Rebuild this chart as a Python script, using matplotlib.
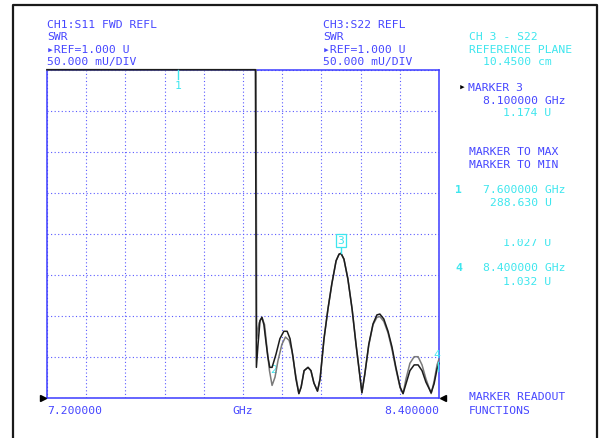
import matplotlib
matplotlib.use('Agg')
import matplotlib.pyplot as plt
from matplotlib.lines import Line2D
from matplotlib.patches import Rectangle

# trace values (GHz, SWR units)
freq_ch1 = [7.200, 7.838, 7.841, 7.846, 7.852, 7.858, 7.864, 7.870, 7.876, 7.882,
            7.889, 7.901, 7.913, 7.925, 7.935, 7.944, 7.953, 7.962, 7.971, 7.978,
            7.987, 7.999, 8.008, 8.017, 8.028, 8.036, 8.048, 8.060, 8.072, 8.085,
            8.094, 8.100, 8.109, 8.121, 8.134, 8.146, 8.157, 8.164, 8.173, 8.185,
            8.198, 8.210, 8.219, 8.231, 8.244, 8.256, 8.268, 8.281, 8.290, 8.299,
            8.311, 8.324, 8.336, 8.348, 8.360, 8.376, 8.385, 8.394, 8.400]
swr_ch1 = [1.400, 1.400, 1.037, 1.065, 1.094, 1.098, 1.089, 1.069, 1.050, 1.037,
           1.037, 1.053, 1.072, 1.081, 1.081, 1.072, 1.050, 1.023, 1.005, 1.013,
           1.033, 1.037, 1.033, 1.018, 1.008, 1.023, 1.072, 1.108, 1.139, 1.167,
           1.175, 1.176, 1.169, 1.145, 1.108, 1.065, 1.029, 1.006, 1.029, 1.065,
           1.090, 1.101, 1.102, 1.096, 1.081, 1.062, 1.037, 1.013, 1.005, 1.017,
           1.033, 1.040, 1.040, 1.033, 1.019, 1.006, 1.017, 1.035, 1.042]

freq_ch3 = [7.200, 7.840, 7.842, 7.849, 7.858, 7.866, 7.873, 7.881, 7.889, 7.898,
            7.907, 7.919, 7.930, 7.941, 7.950, 7.959, 7.971, 7.978, 7.987, 7.999,
            8.008, 8.017, 8.028, 8.036, 8.048, 8.060, 8.072, 8.085, 8.094, 8.100,
            8.109, 8.121, 8.134, 8.146, 8.157, 8.164, 8.173, 8.185, 8.198, 8.210,
            8.219, 8.231, 8.244, 8.256, 8.268, 8.281, 8.290, 8.299, 8.311, 8.324,
            8.336, 8.348, 8.360, 8.376, 8.385, 8.394, 8.400]
swr_ch3 = [1.400, 1.400, 1.072, 1.091, 1.098, 1.089, 1.062, 1.033, 1.015, 1.025,
           1.045, 1.065, 1.074, 1.070, 1.057, 1.033, 1.005, 1.013, 1.033, 1.037,
           1.033, 1.018, 1.008, 1.023, 1.072, 1.108, 1.139, 1.167, 1.175, 1.176,
           1.169, 1.145, 1.108, 1.065, 1.029, 1.006, 1.029, 1.064, 1.089, 1.098,
           1.099, 1.093, 1.079, 1.059, 1.035, 1.012, 1.005, 1.023, 1.042, 1.050,
           1.050, 1.040, 1.023, 1.005, 1.020, 1.040, 1.047]

f_start, f_stop = 7.2, 8.4
ref_value, per_div = 1.0, 0.05

header_ch1 = ["CH1:S11 FWD REFL", "SWR", "\u25b8REF=1.000 U", "50.000 mU/DIV"]
header_ch3 = ["CH3:S22 REFL", "SWR", "\u25b8REF=1.000 U", "50.000 mU/DIV"]

W, H = 607, 439
BLUE = '#4646ff'
CYAN = '#3ee6ee'
MONO = ['DejaVu Sans Mono', 'DejaVu Sans']
FS = 8.2

fig = plt.figure(figsize=(W / 100, H / 100), dpi=100)
fig.patch.set_facecolor('white')


def put(x, y, s, color=BLUE, ha='left', **kw):
    fig.text(x / W, 1 - y / H, s, color=color, ha=ha, va='center',
             family=MONO, fontsize=FS, **kw)


# outer instrument frame
fig.add_artist(Line2D([13 / W, 13 / W, 597 / W, 597 / W], [0, 1 - 6 / H, 1 - 6 / H, 0],
                      transform=fig.transFigure, color='#1a1a1a', lw=1.6))

ax = fig.add_axes([47 / W, 1 - 398.7 / H, 392 / W, 328 / H])
ax.set_xlim(f_start, f_stop)
ax.set_ylim(ref_value, ref_value + 8 * per_div)
ax.set_xticks([f_start + i * (f_stop - f_start) / 10 for i in range(11)])
ax.set_yticks([ref_value + i * per_div for i in range(9)])
ax.tick_params(length=0, labelbottom=False, labelleft=False)
ax.grid(True, color='#5a5aff', lw=0.8, linestyle=(0, (1, 2.2)))
for sp in ax.spines.values():
    sp.set_color('#3c3cff')
    sp.set_linewidth(1.1)

ax.plot(freq_ch3, swr_ch3, color='#7a7a7a', lw=1.1, zorder=3, clip_on=False)
ax.plot(freq_ch1, swr_ch1, color='#1c1c1c', lw=1.1, zorder=4, clip_on=False)

# markers
ax.plot([7.6, 7.6], [1.4, 1.389], color=CYAN, lw=1.0, zorder=5, clip_on=False)
ax.text(7.6, 1.381, "1", color=CYAN, ha='center', va='center', family=MONO, fontsize=FS)
ax.text(7.895, 1.035, "2", color=CYAN, ha='center', va='center', family=MONO, fontsize=FS, zorder=2)
ax.plot([8.1, 8.1], [1.176, 1.185], color=CYAN, lw=1.0, zorder=5)
ax.text(8.1, 1.192, "3", color=CYAN, ha='center', va='center', family=MONO, fontsize=FS,
        bbox=dict(boxstyle='square,pad=0.12', fc='white', ec=CYAN, lw=0.9), zorder=6)
ax.plot([8.397, 8.397], [1.032, 1.044], color=CYAN, lw=1.0, zorder=5, clip_on=False)
ax.text(8.393, 1.053, "4", color=CYAN, ha='center', va='center', family=MONO, fontsize=FS,
        clip_on=False)

# reference position arrows
fig.add_artist(Line2D([43 / W], [1 - 398.7 / H], marker='>', ms=4, color='black',
                      transform=fig.transFigure))
fig.add_artist(Line2D([443 / W], [1 - 398.7 / H], marker='<', ms=4, color='black',
                      transform=fig.transFigure))

for i, s in enumerate(header_ch1):
    put(47, 25 + i * 12.3, s)
for i, s in enumerate(header_ch3):
    put(323, 25 + i * 12.3, s)

put(7 * 0 + 47, 411, "7.200000")
put(243, 411, "GHz", ha='center')
put(439, 411, "8.400000", ha='right')

# right-hand softkey / readout panel
put(469, 37, "CH 3 - S22", color=CYAN)
put(469, 50, "REFERENCE PLANE", color=CYAN)
put(483, 62, "10.4500 cm", color=CYAN)
put(459, 88, "\u25b8", color='black')
put(468, 88, "MARKER 3")
put(483, 101, "8.100000 GHz")
put(503, 113, "1.174 U", color=CYAN)
put(469, 152, "MARKER TO MAX")
put(469, 165, "MARKER TO MIN")
put(455, 190, "1", color=CYAN, weight='bold')
put(483, 190, "7.600000 GHz", color=CYAN)
put(490, 203, "288.630 U", color=CYAN)
put(503, 243, "1.027 U", color=CYAN)
fig.add_artist(Rectangle((448 / W, 1 - 239.5 / H), 127 / W, 32 / H,
                         transform=fig.transFigure, fc='white', ec='none', zorder=10))
put(455, 268, "4", color=CYAN, weight='bold')
put(483, 268, "8.400000 GHz", color=CYAN)
put(503, 282, "1.032 U", color=CYAN)
put(469, 397, "MARKER READOUT")
put(469, 411, "FUNCTIONS")

fig.savefig('out.png', dpi=100)
